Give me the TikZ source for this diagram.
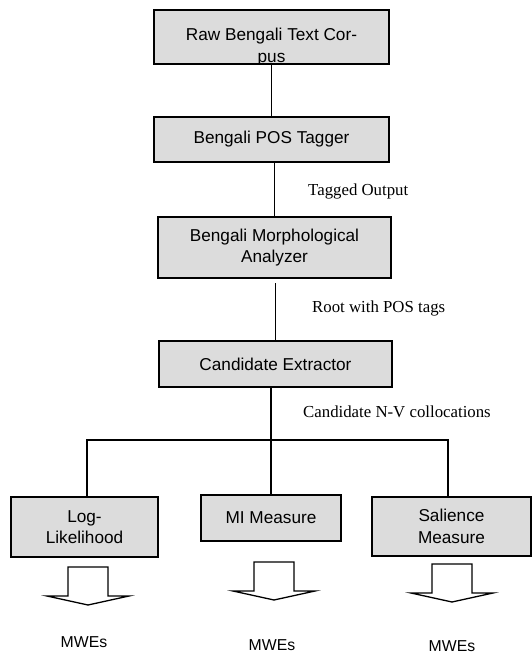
\documentclass[tikz,border=0pt]{standalone}
\usepackage{fontspec}
\setmainfont{Liberation Sans}
\newfontfamily\labelfont{Liberation Serif}
\usetikzlibrary{positioning,calc}
\definecolor{boxgray}{RGB}{220,220,220}

\begin{document}
\begin{tikzpicture}[x=1pt,y=-1pt,
  stage/.style={draw=black,fill=boxgray,line width=1.8pt,inner sep=0pt,outer sep=0pt,align=center,font=\fontsize{17.2}{21.5}\selectfont},
  link/.style={line width=1.6pt},
  flowlbl/.style={anchor=base west,inner sep=0pt,font=\labelfont\fontsize{16.8}{20}\selectfont},
  outarrow/.style={draw=black,fill=white,line width=1.3pt,line join=miter},
  result/.style={anchor=base,inner sep=0pt,font=\fontsize{15.8}{18}\selectfont}]
\useasboundingbox (0,0) rectangle (532,654);
% pipeline
\node[stage,minimum width=235pt,minimum height=54pt] (raw) at (271.5,37) {};
\begin{scope}
  \clip (raw.south west) rectangle (raw.north east);
  \node[anchor=north,inner sep=0pt,align=center,font=\fontsize{17.2}{22}\selectfont] (rawtxt) at (271.5,28) {Raw Bengali Text Cor-\\pus};
\end{scope}
\draw[line width=1.8pt] (raw.south west) rectangle (raw.north east);
\node[stage,minimum width=235pt,minimum height=45pt] (pos) at (271.5,139.5) {Bengali POS Tagger};
\node[stage,minimum width=233pt,minimum height=61pt] (morph) at (274.5,247.5) {Bengali Morphological\\Analyzer};
\node[stage,minimum width=233pt,minimum height=46pt] (cand) at (275.5,364) {Candidate Extractor};
% measures
\node[stage,minimum width=147pt,minimum height=60pt] (ll) at (84.5,527) {Log-\\Likelihood};
\node[stage,minimum width=140pt,minimum height=46pt] (mi) at (271,518) {MI Measure};
\node[stage,minimum width=159pt,minimum height=59pt] (sal) at (451.5,526.5) {Salience\\Measure};
% connectors
\draw[link] (raw.south -| pos.north) -- (pos.north);
\draw[link] (morph.north |- pos.south) -- (morph.north);
\draw[link,shorten <=5pt] (cand.north |- morph.south) -- (cand.north);
\draw[link] (mi.north |- cand.south) -- (mi.north);
\coordinate (bus) at ($(mi.north |- 0,440)$);
\draw[link] ([xshift=2.5pt]ll.north) |- (bus) -| ([xshift=-3.5pt]sal.north);
% edge labels
\node[flowlbl] (tagged) at (308,195) {Tagged Output};
\node[flowlbl] (rootpos) at (312,312) {Root with POS tags};
\node[flowlbl] (candnv) at (303,417) {Candidate N-V collocations};
% output arrows
\foreach \x/\y in {88/567,274/562,452/564}{
  \draw[outarrow] (\x-20,\y) -- (\x+20,\y) -- (\x+20,\y+29) -- (\x+41,\y+29)
    -- (\x,\y+38) -- (\x-41,\y+29) -- (\x-20,\y+29) -- cycle;}
\node[result] (mweA) at (84,647) {MWEs};
\node[result] (mweB) at (272,650) {MWEs};
\node[result] (mweC) at (452,651) {MWEs};
\end{tikzpicture}
\end{document}
